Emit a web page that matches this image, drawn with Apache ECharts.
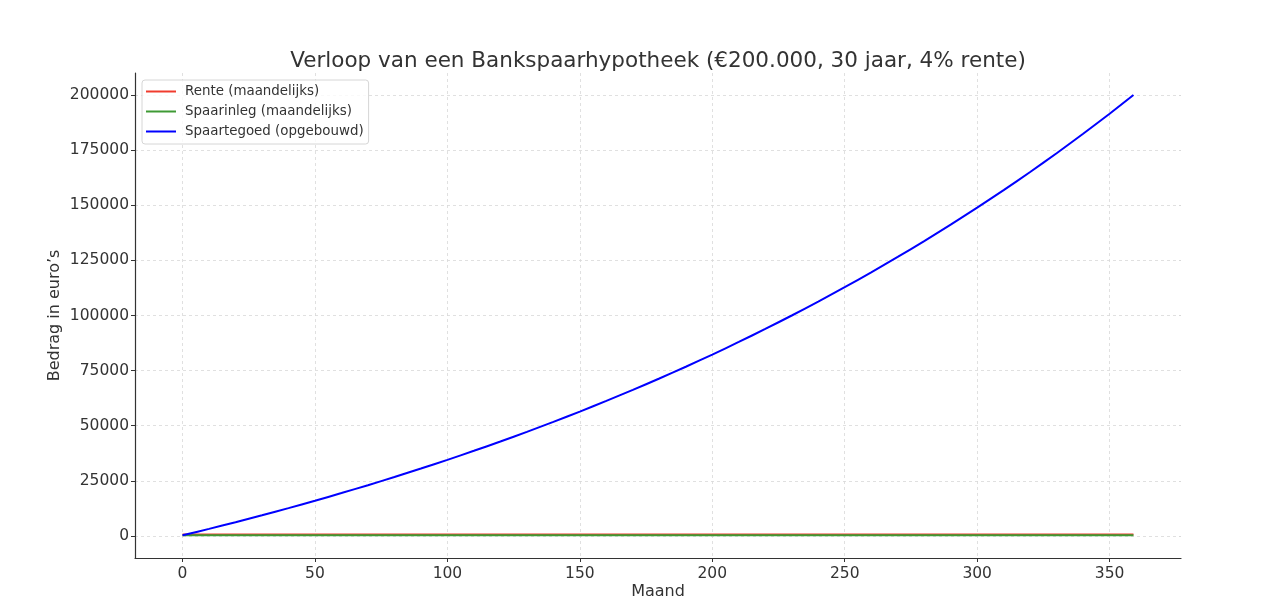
<!DOCTYPE html>
<html>
<head>
<meta charset="utf-8">
<script src="https://cdn.jsdelivr.net/npm/echarts@6/dist/echarts.min.js"></script>
<style>html,body{margin:0;padding:0;background:#fff;}#c{width:1284px;height:613px;}</style>
</head>
<body>
<div id="c"></div>
<script>
// Data
const titleText = 'Verloop van een Bankspaarhypotheek (€200.000, 30 jaar, 4% rente)';
const seriesNames = ['Rente (maandelijks)', 'Spaarinleg (maandelijks)', 'Spaartegoed (opgebouwd)'];
const flatMonths = [0, 359];
const renteValues = [667, 667];
const spaarinlegValues = [288, 288];
const tegoedMonths = [0,10,20,30,40,50,60,70,80,90,100,110,120,130,140,150,160,170,180,190,200,210,220,230,240,250,260,270,280,290,300,310,320,330,340,350,359];
const tegoedValues = [288,3223,6256,9392,12635,15987,19453,23036,26739,30569,34527,38619,42852,47225,51750,56423,61258,66255,71420,76762,82283,87993,93898,100002,106314,112838,119581,126553,133760,141212,148914,156878,165112,173621,182419,191517,200000];
const xTicks = [0,50,100,150,200,250,300,350];
const yTicks = [0,25000,50000,75000,100000,125000,150000,175000,200000];

const zip = (xs, ys) => xs.map((x, i) => [x, ys[i]]);
const font = 'DejaVu Sans';
const txt = '#333';

const chart = echarts.init(document.getElementById('c'), null, {renderer: 'canvas'});
chart.setOption({
  animation: false,
  backgroundColor: '#fff',
  textStyle: {fontFamily: font},
  title: {
    text: titleText,
    left: 653, top: 45, textAlign: 'center',
    textStyle: {fontFamily: font, fontSize: 21.5, fontWeight: 'normal', color: txt}
  },
  legend: {
    orient: 'vertical', left: 142, top: 80,
    padding: [5, 5, 6, 4],
    itemGap: 7, itemWidth: 30, itemHeight: 2,
    backgroundColor: 'rgba(255,255,255,0.8)',
    borderColor: '#d6d6d6', borderWidth: 1, borderRadius: 3,
    textStyle: {fontFamily: font, fontSize: 13.4, color: txt, padding: [0,0,0,4]},
    data: seriesNames.map(n => ({name: n, icon: 'rect'}))
  },
  grid: {left: 135, right: 103, top: 73, bottom: 55, containLabel: false},
  xAxis: {
    type: 'value', min: -17.95, max: 376.95,
    name: 'Maand', nameLocation: 'middle', nameGap: 26, nameMoveOverlap: false,
    nameTextStyle: {fontFamily: font, fontSize: 16, color: txt},
    axisLine: {show: true, onZero: false, lineStyle: {color: '#333', width: 1.2}},
    axisTick: {show: true, length: 4, lineStyle: {color: '#333'}, customValues: xTicks},
    axisLabel: {fontFamily: font, fontSize: 15.5, color: txt, margin: 8, customValues: xTicks, formatter: v => String(v)},
    splitLine: {show: true, lineStyle: {color: '#d9d9d9', type: [3, 3], width: 0.8}}
  },
  yAxis: {
    type: 'value', min: -10000, max: 210000,
    name: 'Bedrag in euro’s', nameLocation: 'middle', nameGap: 72, nameRotate: 90, nameMoveOverlap: false,
    nameTextStyle: {fontFamily: font, fontSize: 16, color: txt},
    axisLine: {show: true, onZero: false, lineStyle: {color: '#333', width: 1.2}},
    axisTick: {show: true, length: 4, lineStyle: {color: '#333'}, customValues: yTicks},
    axisLabel: {fontFamily: font, fontSize: 15.5, color: txt, margin: 6, customValues: yTicks, formatter: v => String(v)},
    splitLine: {show: true, lineStyle: {color: '#d9d9d9', type: [3, 3], width: 0.8}}
  },
  series: [
    {name: seriesNames[0], type: 'line', data: zip(flatMonths, renteValues), showSymbol: false, symbol: 'none',
     lineStyle: {color: '#f03c2e', width: 2}, itemStyle: {color: '#f03c2e'}, z: 3},
    {name: seriesNames[1], type: 'line', data: zip(flatMonths, spaarinlegValues), showSymbol: false, symbol: 'none',
     lineStyle: {color: '#3f9a35', width: 2}, itemStyle: {color: '#3f9a35'}, z: 4},
    {name: seriesNames[2], type: 'line', data: zip(tegoedMonths, tegoedValues), showSymbol: false, symbol: 'none', smooth: 0.3,
     lineStyle: {color: '#0000ff', width: 2}, itemStyle: {color: '#0000ff'}, z: 5}
  ]
});
</script>
</body>
</html>
